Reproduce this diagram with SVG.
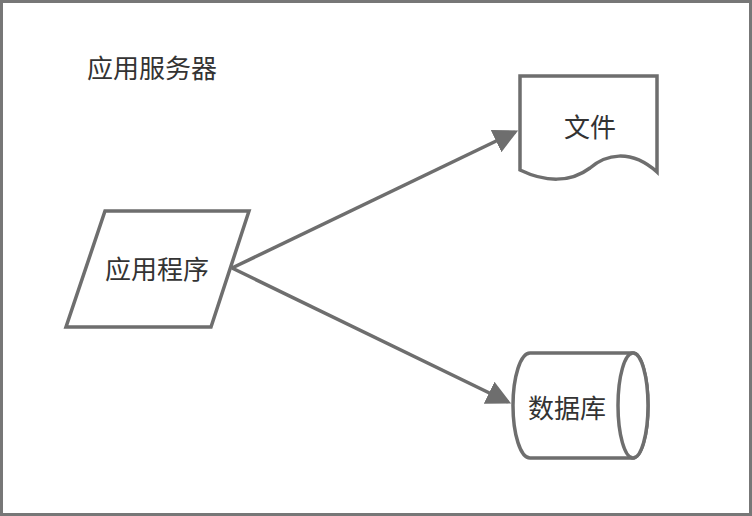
<svg xmlns="http://www.w3.org/2000/svg" width="752" height="516" viewBox="0 0 752 516">
<style>
.s{fill:#fff;stroke:#6e6e6e;stroke-width:3.5}
.t{font-family:"Noto Sans CJK SC","Liberation Sans",sans-serif;font-size:26px;fill:#333}
.c{stroke:#6e6e6e;stroke-width:3.5;fill:none}
</style>
<defs><marker id="a" markerWidth="8" markerHeight="8" refX="6" refY="4" orient="auto" markerUnits="strokeWidth"><path d="M0,0.5 L7,4 L0,7.5 z" fill="#6e6e6e"/></marker></defs>
<rect x="0" y="0" width="752" height="516" fill="#fff"/>
<rect x="1.5" y="1.5" width="749" height="513" fill="none" stroke="#777" stroke-width="3"/>
<text class="t" x="87" y="78">应用服务器</text>
<g id="connectors">
<line class="c" x1="232" y1="268" x2="515" y2="132" marker-end="url(#a)"/>
<line class="c" x1="232" y1="268" x2="508" y2="402" marker-end="url(#a)"/>
</g>
<g id="app"><polygon class="s" points="105,211 249,211 211,327 66,327"/><text class="t" x="157" y="279" text-anchor="middle">应用程序</text></g>
<g id="file"><path class="s" d="M520,76 H657 V172 C630,148 605,155 590,168 C570,183 545,182 520,170 Z"/><text class="t" x="590" y="137" text-anchor="middle">文件</text></g>
<g id="db"><path class="s" d="M530,353 H633 A15,52.5 0 0 1 633,458 H530 A17,52.5 0 0 1 530,353 Z"/><ellipse class="s" cx="633" cy="405.5" rx="15" ry="52.5"/><text class="t" x="567" y="418" text-anchor="middle">数据库</text></g>
</svg>
